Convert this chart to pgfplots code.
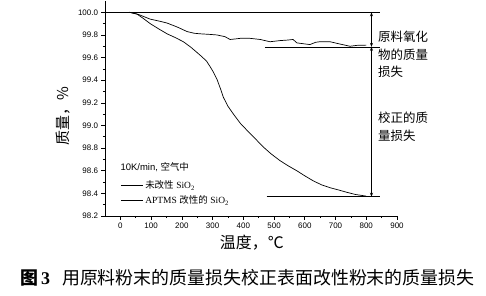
\documentclass[border=0pt]{standalone}
\usepackage{pgfplots}
\pgfplotsset{compat=1.18}
\usepackage{fontspec}
\setmainfont{Liberation Sans}
\newfontfamily\cjk{Noto Sans CJK SC}
\newfontfamily\serif{Liberation Serif}
\usetikzlibrary{arrows.meta}

\pgfplotstableread{
x y
30 100.0
60 99.98
97 99.94
130 99.92
152 99.905
185 99.87
217 99.83
240 99.815
260 99.81
290 99.805
314 99.80
340 99.785
357 99.76
375 99.765
390 99.77
422 99.77
455 99.76
487 99.74
519 99.75
545 99.755
562 99.76
574 99.73
596 99.722
617 99.715
635 99.735
649 99.74
682 99.74
714 99.72
747 99.70
770 99.708
800 99.71
}\upperdata

\pgfplotstableread{
x y
30 100.0
54 99.985
75 99.945
97 99.90
125 99.853
152 99.81
180 99.775
205 99.74
230 99.69
260 99.62
280 99.57
292 99.52
303 99.47
314 99.41
325 99.33
335 99.25
350 99.17
368 99.10
390 99.02
411 98.96
440 98.88
465 98.81
490 98.75
519 98.69
545 98.645
574 98.60
600 98.555
628 98.51
655 98.475
682 98.45
710 98.43
736 98.41
765 98.39
790 98.38
800 98.375
}\lowerdata

\begin{document}
\begin{tikzpicture}
\begin{axis}[name=ax, scale only axis, width=292bp, height=215bp,
  xmin=-50, xmax=900, ymin=98.2, ymax=100.1,
  axis x line*=bottom, axis y line*=left,
  axis line style={-, line width=0.6pt},
  xtick={0,100,200,300,400,500,600,700,800,900},
  ytick={98.2,98.4,98.6,98.8,99.0,99.2,99.4,99.6,99.8,100.0},
  minor x tick num=1, minor y tick num=1,
  tick align=outside,
  major tick length=3.5bp, minor tick length=2bp,
  tick style={black, line width=0.6pt},
  /pgf/number format/assume math mode=true,
  yticklabel style={/pgf/number format/.cd, fixed, fixed zerofill, precision=1},
  xticklabel style={/pgf/number format/.cd, fixed, precision=0},
  ticklabel style={font=\fontsize{8}{9}\selectfont},
  scaled y ticks=false,
  clip=false,
  ylabel={\cjk 质量，\%},
  ylabel style={at={(axis description cs:-0.145,0.465)}, anchor=center, font=\fontsize{15}{16}\selectfont},
  xlabel={\cjk 温度，℃},
  xlabel style={at={(axis description cs:0.503,-0.126)}, anchor=center, font=\fontsize{16}{17}\selectfont},
  legend style={at={(axis cs:0,98.53)}, anchor=north west, draw=none, fill=none,
    inner sep=0pt, row sep=1.5bp, font=\fontsize{9.5}{11}\selectfont},
  legend cell align=left,
  legend image code/.code={\draw[#1] (0bp,0bp) -- (22bp,0bp);},
]
\addplot[black, line width=0.7pt] table[x=x,y=y] {\upperdata};
\addlegendentry{{\cjk 未改性} {\serif SiO\textsubscript{2}}}
\addplot[black, line width=0.7pt] table[x=x,y=y] {\lowerdata};
\addlegendentry{{\serif APTMS} {\cjk 改性的} {\serif SiO\textsubscript{2}}}

\addplot[black, line width=0.6pt, forget plot] coordinates {(-50,100) (845,100)};
\addplot[black, line width=0.6pt, forget plot] coordinates {(470,99.695) (845,99.695)};
\addplot[black, line width=0.6pt, forget plot] coordinates {(476,98.37) (845,98.37)};
\addplot[black, line width=0.6pt, forget plot, {Stealth[length=4bp,width=3bp]}-{Stealth[length=4bp,width=3bp]}] coordinates {(817,100) (817,99.695)};
\addplot[black, line width=0.6pt, forget plot, {Stealth[length=4bp,width=3bp]}-{Stealth[length=4bp,width=3bp]}] coordinates {(817,99.695) (817,98.37)};

\node[anchor=west, inner sep=0pt, font=\fontsize{9.5}{11}\selectfont] at (axis cs:0,98.63) {10K/min, {\cjk 空气中}};
\node[anchor=north west, inner sep=0pt, align=left, font=\fontsize{12.5}{18}\selectfont\cjk] at (axis cs:838,99.84) {原料氧化\\物的质量\\损失};
\node[anchor=north west, inner sep=0pt, align=left, font=\fontsize{12.5}{18}\selectfont\cjk] at (axis cs:838,99.12) {校正的质\\量损失};
\end{axis}
\node[anchor=west, inner sep=0pt, font=\fontsize{18}{20}\selectfont] at ([shift={(-85bp,-62bp)}]ax.south west) {{\cjk\bfseries 图}\hspace{3bp}{\serif\bfseries 3}\hspace{12bp}{\cjk 用原料粉末的质量损失校正表面改性粉末的质量损失}};
\path ([shift={(-105bp,-80bp)}]ax.south west) rectangle ++(486bp,296bp);
\end{tikzpicture}
\end{document}
